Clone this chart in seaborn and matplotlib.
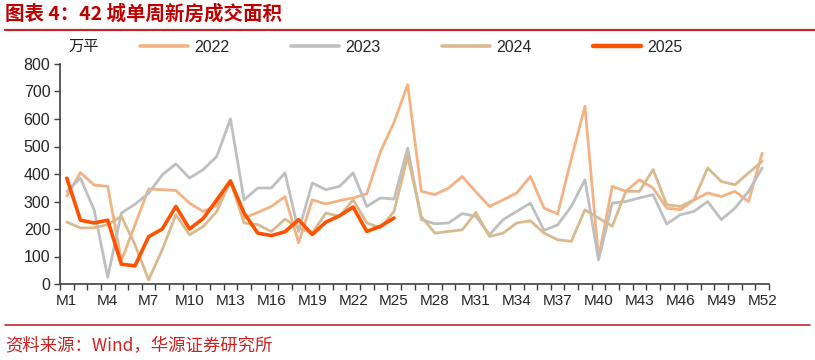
import numpy as np
import pandas as pd
import matplotlib
matplotlib.use("Agg")
import matplotlib.pyplot as plt
from matplotlib.lines import Line2D
import seaborn as sns

# weekly new-home transaction area, 42 cities (万平)
weeks = list(range(1, 53))
y2022 = [320, 405, 360, 355, 85, 215, 346, 343, 340, 294, 264, 285, 375, 240, 260, 282, 318, 150,
         306, 291, 303, 313, 328, 481, 588, 725, 337, 325, 349, 391, 335, 282, 306, 331, 391, 276,
         255, 455, 646, 95, 355, 337, 379, 349, 276, 270, 306, 331, 318, 337, 300, 476]
y2023 = [337, 385, 270, 25, 258, 290, 330, 397, 437, 385, 416, 464, 600, 306, 349, 349, 404, 191,
         367, 343, 355, 404, 282, 313, 309, 494, 234, 219, 222, 256, 246, 179, 234, 264, 294, 195,
         215, 282, 379, 88, 294, 300, 313, 325, 218, 252, 264, 300, 234, 276, 337, 422]
y2024 = [225, 204, 204, 216, 246, 143, 15, 125, 252, 179, 209, 264, 375, 222, 216, 191, 236, 204,
         185, 258, 246, 306, 222, 204, 264, 464, 245, 185, 191, 197, 260, 173, 185, 222, 230, 185,
         161, 155, 270, 240, 210, 337, 337, 416, 288, 282, 306, 422, 373, 361, 404, 446]
y2025 = [385, 232, 222, 232, 72, 66, 172, 200, 282, 200, 238, 306, 375, 258, 185, 176, 190, 234,
         180, 225, 248, 280, 191, 210, 240]

years = ["2022", "2023", "2024", "2025"]
series = [y2022, y2023, y2024, y2025]
colors = {"2022": "#F4B183", "2023": "#BFBFBF", "2024": "#D8BA8E", "2025": "#FF5200"}
widths = {"2022": 2.0, "2023": 2.0, "2024": 2.0, "2025": 2.6}

sns.set_style("ticks")
plt.rcParams['font.family'] = ['Liberation Sans', 'Noto Sans CJK SC']

fig = plt.figure(figsize=(8.15, 3.6), dpi=100)
ax = fig.add_axes([60 / 815, 1 - 284 / 360, 709 / 815, 220 / 360])

# long table for seaborn
frames = []
for yr, vals in zip(years, series):
    frames.append(pd.DataFrame({"week": weeks[:len(vals)], "value": vals, "year": yr}))
df = pd.concat(frames, ignore_index=True)

for yr in years:
    sns.lineplot(data=df[df["year"] == yr], x="week", y="value", ax=ax,
                 color=colors[yr], linewidth=widths[yr], label=yr,
                 solid_joinstyle="round", solid_capstyle="round")

ax.set_xlim(0.5, 52.5)
ax.set_ylim(0, 800)
ax.set_yticks(range(0, 801, 100))
ax.set_xlabel("")
ax.set_ylabel("")

# tick marks at week boundaries, labels every 3 weeks
ax.set_xticks(np.arange(0.5, 53, 1))
ax.set_xticklabels([])
lab_pos = list(range(1, 53, 3))
ax.set_xticks(lab_pos, minor=True)
ax.set_xticklabels([f"M{w}" for w in lab_pos], minor=True)
ax.tick_params(axis='x', which='major', length=4, width=1, color='#404040', direction='out')
ax.tick_params(axis='x', which='minor', length=0, pad=7, labelsize=11)
ax.tick_params(axis='y', length=4, width=1, color='#404040', labelsize=11.5, pad=3)

for s in ["top", "right"]:
    ax.spines[s].set_visible(False)
for s in ["left", "bottom"]:
    ax.spines[s].set_color('#404040')
    ax.spines[s].set_linewidth(1.2)

ax.legend_.remove()
handles = [Line2D([], [], color=colors[yr], linewidth=widths[yr] + 0.6) for yr in years]
fig.legend(handles, years, loc='center', bbox_to_anchor=(0.505, 1 - 47 / 360), ncol=4,
           frameon=False, fontsize=11.5, handlelength=3.0, handletextpad=0.4,
           columnspacing=3.85)

fig.text(68 / 815, 1 - 47 / 360, "万平", fontsize=11, va='center', ha='left', color='#222222')

# title and source
red = '#C00000'
fig.text(5 / 815, 1 - 14 / 360, "图表 4：42 城单周新房成交面积", fontsize=14, fontweight='bold',
         color=red, va='center', ha='left', family=['Noto Sans CJK SC', 'DejaVu Sans'])
fig.add_artist(Line2D([5 / 815, 1.0], [1 - 30 / 360] * 2, color='#C0282D', linewidth=1.6))
fig.add_artist(Line2D([5 / 815, 810 / 815], [1 - 325 / 360] * 2, color='#C0282D', linewidth=1.2))
fig.text(5 / 815, 1 - 346 / 360, "资料来源：Wind，华源证券研究所", fontsize=12.5,
         color='#D02020', va='center', ha='left', family=['Noto Sans CJK SC', 'DejaVu Sans'])

fig.savefig("out.png", dpi=100)
